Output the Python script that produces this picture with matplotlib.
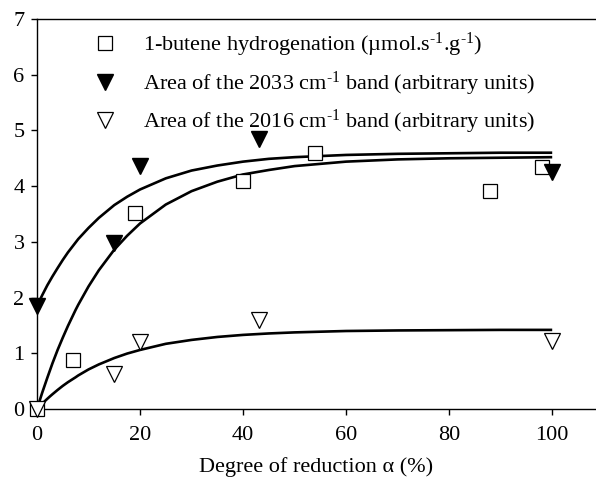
import numpy as np
import matplotlib
matplotlib.use('Agg')
import matplotlib.pyplot as plt

plt.rcParams['font.family'] = ['Liberation Serif', 'DejaVu Serif']
plt.rcParams['mathtext.fontset'] = 'custom'
plt.rcParams['mathtext.rm'] = 'Liberation Serif'
plt.rcParams['mathtext.it'] = 'Liberation Serif:italic'

# Measured points
butene_x = [0, 7, 19, 40, 54, 88, 98]
butene_y = [0, 0.88, 3.52, 4.1, 4.6, 3.92, 4.35]

band2033_x = [0, 15, 20, 43, 100]
band2033_y = [1.85, 2.98, 4.37, 4.85, 4.25]

band2016_x = [0, 15, 20, 43, 100]
band2016_y = [0, 0.62, 1.2, 1.6, 1.22]

# Fitted curves
curve_x = [0, 1, 2, 2.5, 3, 4, 5, 6, 7.5, 8, 10, 12, 15, 17.5, 20, 25, 30,
           35, 40, 45, 50, 60, 70, 80, 90, 100]
fit2033_y = [1.85, 2.04, 2.22, 2.30, 2.38, 2.53, 2.675, 2.81, 2.99, 3.05,
             3.25, 3.43, 3.66, 3.81, 3.94, 4.14, 4.28, 4.37, 4.44, 4.49,
             4.52, 4.56, 4.58, 4.59, 4.60, 4.60]
fitbutene_y = [0, 0.29, 0.56, 0.69, 0.82, 1.06, 1.28, 1.49, 1.78, 1.87,
               2.20, 2.49, 2.86, 3.11, 3.33, 3.67, 3.91, 4.08, 4.21, 4.29,
               4.36, 4.44, 4.48, 4.50, 4.51, 4.52]
fit2016_y = [0, 0.095, 0.183, 0.225, 0.265, 0.342, 0.415, 0.481, 0.57, 0.602,
             0.71, 0.80, 0.915, 0.995, 1.06, 1.17, 1.24, 1.293, 1.33, 1.356,
             1.375, 1.40, 1.41, 1.415, 1.42, 1.42]

labels = ['1-butene hydrogenation (µmol.s$^{\\text{-1}}$.g$^{\\text{-1}}$)',
          'Area of the 2033 cm$^{\\text{-1}}$ band (arbitrary units)',
          'Area of the 2016 cm$^{\\text{-1}}$ band (arbitrary units)']

fig = plt.figure(figsize=(5.96, 4.90), dpi=100)
ax = fig.add_axes([37 / 596, 1 - 409 / 490, 1 - 37 / 596, (409 - 19) / 490])

for fy in (fit2033_y, fitbutene_y, fit2016_y):
    ax.plot(curve_x, fy, color='black', lw=1.9, zorder=2,
            solid_joinstyle='round', solid_capstyle='butt')

h1, = ax.plot(butene_x, butene_y, 's', ms=9.5, mfc='white', mec='black', mew=0.9,
              clip_on=False, zorder=3, label=labels[0])
h2, = ax.plot(band2033_x, band2033_y, 'v', ms=11, mfc='black', mec='black',
              clip_on=False, zorder=3, label=labels[1])
h3, = ax.plot(band2016_x, band2016_y, 'v', ms=11, mfc='white', mec='black', mew=0.9,
              clip_on=False, zorder=3, label=labels[2])

ax.set_xlim(0, 108.5)
ax.set_ylim(0, 7)
ax.set_xticks([0, 20, 40, 60, 80, 100])
ax.set_yticks(range(8))
ax.spines['right'].set_visible(False)
for s in ('left', 'bottom', 'top'):
    ax.spines[s].set_linewidth(1.0)
ax.tick_params(direction='out', length=4, width=1, labelsize=16, pad=5)
ax.tick_params(axis='x', pad=8)

ax.set_xlabel('Degree of reduction α (%)', fontsize=16, labelpad=9)

ax.legend(handles=[h1, h2, h3], loc='upper left', bbox_to_anchor=(0.102, 0.969),
          frameon=False, fontsize=16, handlelength=1.0, handletextpad=1.2,
          labelspacing=0.46, borderaxespad=0, borderpad=0)

fig.savefig('out.png', dpi=100)
